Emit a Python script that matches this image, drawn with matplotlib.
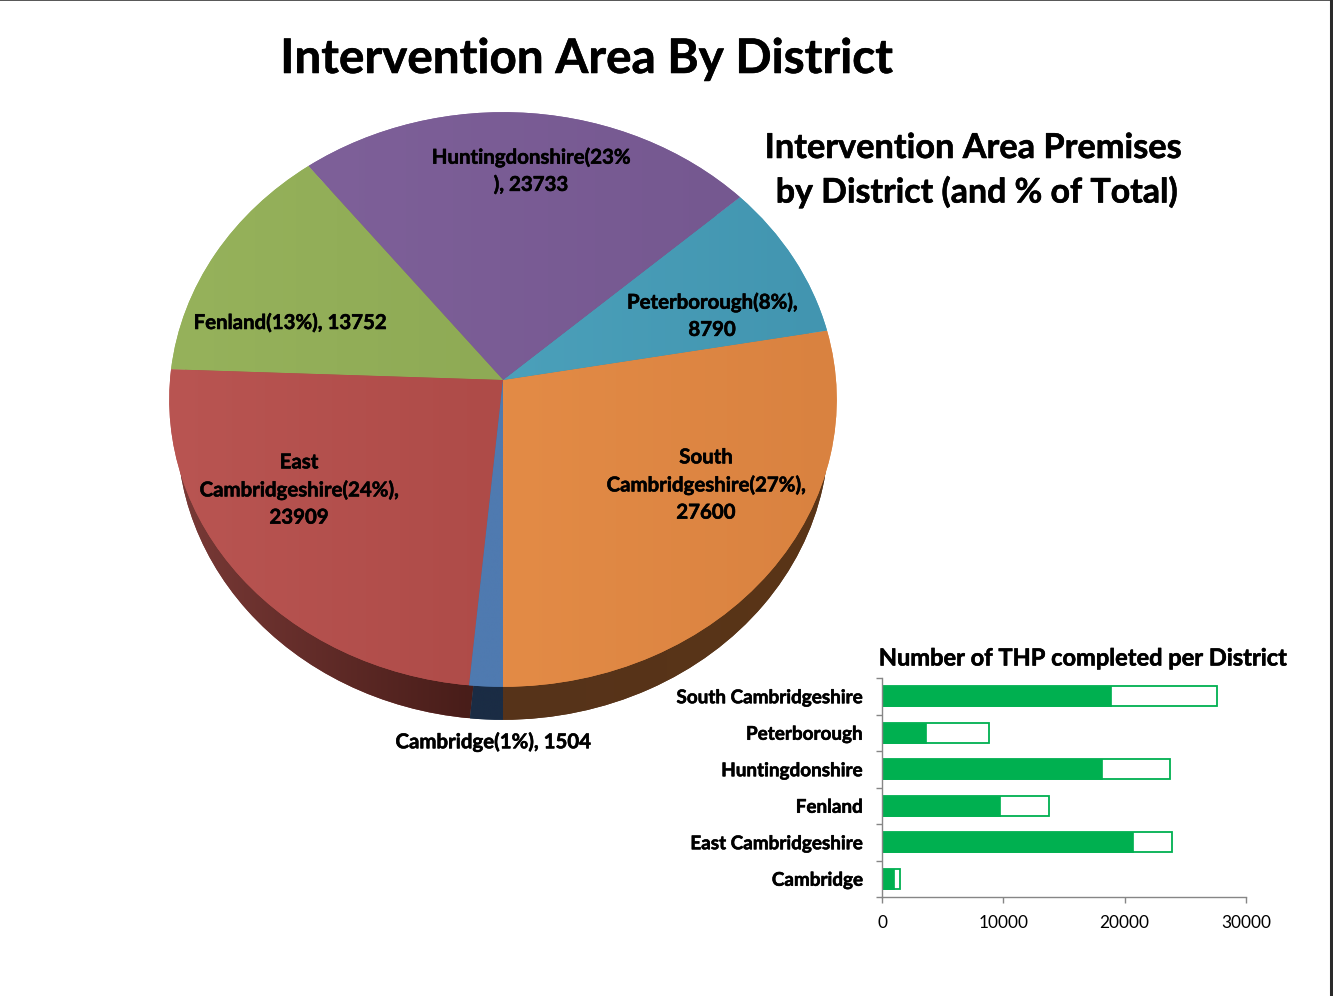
import numpy as np
import matplotlib
matplotlib.use('Agg')
from matplotlib import pyplot as plt
from matplotlib import patheffects as pe
from matplotlib.colors import to_rgb
from matplotlib.lines import Line2D
from matplotlib.transforms import Transform

plt.rcParams['font.family'] = ['Lato', 'DejaVu Sans']

# Data, in the order the pie runs (counter-clockwise from the bottom)
districts = ['South Cambridgeshire', 'Peterborough', 'Huntingdonshire',
             'Fenland', 'East Cambridgeshire', 'Cambridge']
premises = [27600, 8790, 23733, 13752, 23909, 1504]
completed = [18870, 3630, 18130, 9725, 20690, 990]
pie_labels = ['South\nCambridgeshire(27%),\n27600',
              'Peterborough(8%),\n8790',
              'Huntingdonshire(23%\n), 23733',
              'Fenland(13%), 13752',
              'East\nCambridgeshire(24%),\n23909',
              'Cambridge(1%), 1504']
bar_ticks = [0, 10000, 20000, 30000]

# Colours: left and right end of the soft gradient on each slice
top_left = ['#e38b46', '#4ba0ba', '#7e6099', '#96b25b', '#b95552', '#4f7ab0']
top_right = ['#d98240', '#4295b0', '#755890', '#8eaa55', '#ae4b48', '#4f7ab0']
side_left = ['#56331a', '#56331a', '#56331a', '#56331a', '#7a3a37', '#1a2c44']
side_right = ['#5a3517', '#56331a', '#56331a', '#56331a', '#431a16', '#1a2c44']
green = '#00b050'
grey = '#868686'

# Lato bold is a little lighter than the font in the picture
heavy = [pe.withStroke(linewidth=0.4, foreground='black')]


# Maps the unit circle of the pie to the tilted disc on the page
class Tilt(Transform):
    input_dims = 2
    output_dims = 2
    is_separable = False
    has_inverse = False

    def __init__(self, cx, cy, a, b, k):
        super().__init__()
        self.cx, self.cy, self.a, self.b, self.k = cx, cy, a, b, k

    def transform_non_affine(self, values):
        values = np.asarray(values)
        u, v = values[:, 0], values[:, 1]
        d = 1 + self.k * v
        return np.column_stack((self.cx + self.a * u / d, self.cy - self.b * v / d))


def shade(ax, wedge, tilt, left, right, z):
    pts = tilt.transform_non_affine(wedge.get_path().vertices)
    x0, y0 = pts.min(axis=0)
    x1, y1 = pts.max(axis=0)
    grad = np.linspace(to_rgb(left), to_rgb(right), 64).reshape(1, 64, 3)
    im = ax.imshow(grad, extent=(x0, x1, y1, y0), aspect='auto',
                   interpolation='bilinear', zorder=z)
    im.set_clip_path(wedge)


fig = plt.figure(figsize=(13.33, 9.96), dpi=100)
ax = fig.add_axes([0, 0, 1, 1])

top_tilt = Tilt(503, 380, 333, 286, 0.0678)
bottom_tilt = Tilt(503, 413, 325, 286, 0.0678)

# Rim of the pie: the same slices again, lower down and behind
rim, _ = ax.pie(premises, startangle=-90, counterclock=True)
for i, w in enumerate(rim):
    w.set_transform(bottom_tilt + ax.transData)
    w.set_facecolor(side_left[i])
    w.set_zorder(1)
    shade(ax, w, bottom_tilt, side_left[i], side_right[i], 1.5)

face, _ = ax.pie(premises, startangle=-90, counterclock=True)
for i, w in enumerate(face):
    w.set_transform(top_tilt + ax.transData)
    w.set_facecolor(top_left[i])
    w.set_zorder(2)
    shade(ax, w, top_tilt, top_left[i], top_right[i], 2.5)

label_pos = [(706, 485), (712, 316), (531, 171), (290, 323), (299, 490), (493, 742)]
for text, (x, y) in zip(pie_labels, label_pos):
    ax.text(x, y, text, ha='center', va='center', fontsize=14.7, fontweight='bold',
            color='black', linespacing=1.45, zorder=5, path_effects=heavy)

ax.set_xlim(0, 1333)
ax.set_ylim(996, 0)
ax.set_aspect('auto')
ax.axis('off')

# Titles
fig.text(586 / 1333, 1 - 59 / 996, 'Intervention Area By District', ha='center', va='center',
         fontsize=34.3, fontweight='bold', path_effects=heavy)
fig.text(973 / 1333, 1 - 148 / 996, 'Intervention Area Premises', ha='center', va='center',
         fontsize=24.7, fontweight='bold', path_effects=heavy)
fig.text(977 / 1333, 1 - 192 / 996, 'by District (and % of Total)', ha='center', va='center',
         fontsize=24.4, fontweight='bold', path_effects=heavy)

# Small bar chart, bottom right
bx = fig.add_axes([882 / 1333, 1 - 897 / 996, 364 / 1333, 219 / 996])
order = np.arange(len(districts))[::-1]
bx.barh(order, premises, height=0.56, facecolor='white', edgecolor=green, linewidth=1.3)
bx.barh(order, completed, height=0.56, facecolor=green, edgecolor=green, linewidth=0.5)
bx.set_xlim(0, 30000)
bx.set_ylim(-0.5, 5.5)
bx.set_xticks(bar_ticks)
bx.set_yticks(order)
bx.set_yticklabels(districts, fontsize=13.6, fontweight='bold', path_effects=heavy)
bx.set_yticks(np.arange(-0.5, 6), minor=True)
bx.tick_params(axis='y', which='major', length=0, pad=13.7)
bx.tick_params(axis='y', which='minor', length=4, color=grey, width=1)
bx.tick_params(axis='x', length=4.5, color=grey, width=1, labelsize=12.4, pad=8.5)
for name in ['top', 'right']:
    bx.spines[name].set_visible(False)
for name in ['left', 'bottom']:
    bx.spines[name].set_color(grey)
    bx.spines[name].set_linewidth(1)
fig.text(1083 / 1333, 1 - 658 / 996, 'Number of THP completed per District', ha='center', va='center',
         fontsize=17, fontweight='bold', path_effects=heavy)

# Slide edges on top and right of the screenshot
fig.add_artist(Line2D([0, 1], [0.9995, 0.9995], color='#555555', linewidth=1.4))
fig.add_artist(Line2D([0.9985, 0.9985], [0, 1], color='#2a2a2a', linewidth=2.2))

fig.savefig('out.png', dpi=100)
